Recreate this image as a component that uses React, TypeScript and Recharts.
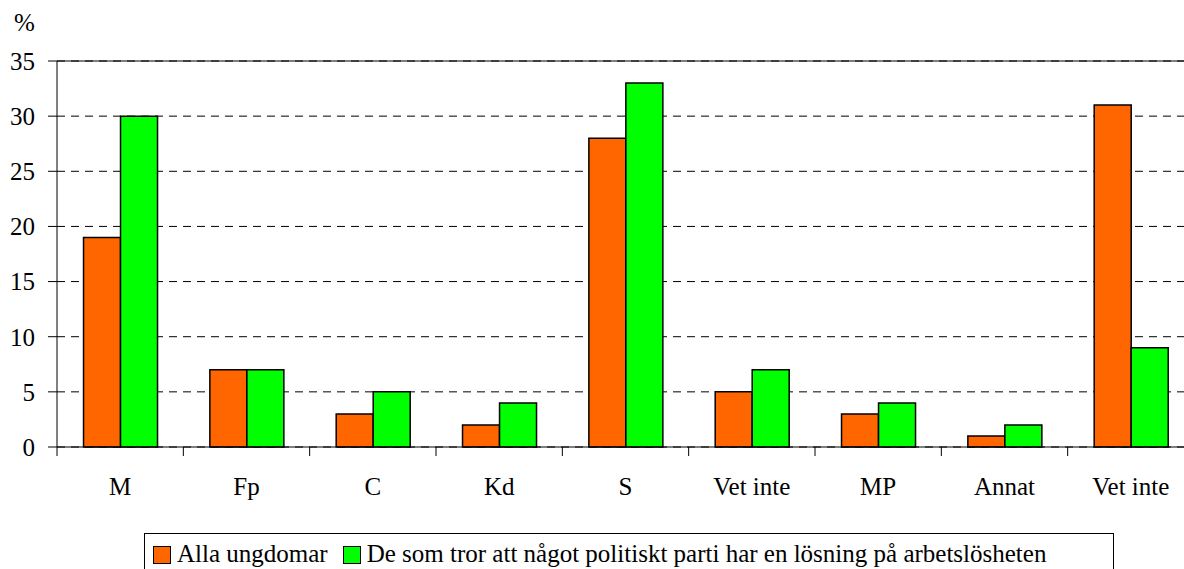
import { BarChart, Bar, XAxis, YAxis, CartesianGrid, Legend, ReferenceLine } from 'recharts'

const CATEGORIES = ['M', 'Fp', 'C', 'Kd', 'S', 'Vet inte', 'MP', 'Annat', 'Vet inte']
const ALLA_UNGDOMAR = [19, 7, 3, 2, 28, 5, 3, 1, 31]
const TROR_LOSNING = [30, 7, 5, 4, 33, 7, 4, 2, 9]
const Y_TICKS = [0, 5, 10, 15, 20, 25, 30, 35]

const SERIES = [
  { key: 'alla', name: 'Alla ungdomar', color: '#FF6600' },
  { key: 'tror', name: 'De som tror att något politiskt parti har en lösning på arbetslösheten', color: '#00FF00' },
]

const FONT = "'Times New Roman', 'Liberation Serif', Tinos, 'DejaVu Serif', serif"
const TICK_SIZE = 9
const TICK_MARGIN = 21

const data = CATEGORIES.map((name, i) => ({
  name,
  alla: ALLA_UNGDOMAR[i],
  tror: TROR_LOSNING[i],
}))

function CategoryTick(props: any) {
  const { x, y, payload, index } = props
  const half = payload?.offset ?? 0
  const axisY = y - TICK_MARGIN - TICK_SIZE
  return (
    <g>
      <line x1={x - half} x2={x - half} y1={axisY} y2={axisY + TICK_SIZE} stroke="#000" />
      {index === CATEGORIES.length - 1 && (
        <line x1={x + half} x2={x + half} y1={axisY} y2={axisY + TICK_SIZE} stroke="#000" />
      )}
      <text x={x} y={y} dy="0.71em" textAnchor="middle" fontSize={25} style={{ fontFamily: FONT }} fill="#000">
        {payload.value}
      </text>
    </g>
  )
}

function LegendBox() {
  return (
    <div
      style={{
        border: '1px solid #000',
        height: 40,
        boxSizing: 'border-box',
        display: 'flex',
        alignItems: 'flex-start',
        paddingLeft: 8,
        paddingTop: 7,
        fontFamily: FONT,
        fontSize: 25,
        lineHeight: '26px',
        color: '#000',
        whiteSpace: 'nowrap',
      }}
    >
      {SERIES.map((s, i) => (
        <span key={s.key} style={{ display: 'flex', alignItems: 'center', marginRight: i === 0 ? 15 : 0 }}>
          <span
            style={{
              display: 'inline-block',
              width: 18,
              height: 18,
              boxSizing: 'border-box',
              border: '1.5px solid #000',
              background: s.color,
              marginRight: 6,
              marginTop: 2,
            }}
          />
          {s.name}
        </span>
      ))}
    </div>
  )
}

export default function App() {
  return (
    <div style={{ position: 'absolute', left: 0, top: 0, width: 1184, height: 569, overflow: 'hidden', background: '#fff', fontFamily: FONT }}>
      <BarChart
        width={1194}
        height={569}
        data={data}
        margin={{ top: 61, right: 0, left: 0, bottom: 0 }}
        barCategoryGap="21%"
        barGap={0}
        style={{ fontFamily: FONT }}
      >
        <CartesianGrid vertical={false} stroke="#000" strokeDasharray="8 6" />
        <XAxis
          dataKey="name"
          height={122}
          interval={0}
          tickSize={TICK_SIZE}
          tickMargin={TICK_MARGIN}
          tickLine={false}
          axisLine={{ stroke: '#000' }}
          tick={<CategoryTick />}
        />
        <YAxis
          width={57}
          domain={[0, 35]}
          ticks={Y_TICKS}
          interval={0}
          tickSize={9}
          tickMargin={13}
          axisLine={{ stroke: '#000' }}
          tickLine={{ stroke: '#000' }}
          tick={{ fontSize: 25, fill: '#000', style: { fontFamily: FONT } }}
          label={{ value: '%', position: 'top', offset: 30, dx: -4, fontSize: 25, fill: '#000', style: { fontFamily: FONT } }}
        />
        <ReferenceLine y={35} stroke="#000" />
        {SERIES.map(s => (
          <Bar
            key={s.key}
            dataKey={s.key}
            name={s.name}
            fill={s.color}
            stroke="#000"
            strokeWidth={1.5}
            isAnimationActive={false}
          />
        ))}
        <Legend
          layout="horizontal"
          verticalAlign="middle"
          align="center"
          content={<LegendBox />}
          wrapperStyle={{ position: 'absolute', top: 533, left: 144, width: 970 }}
        />
      </BarChart>
    </div>
  )
}
